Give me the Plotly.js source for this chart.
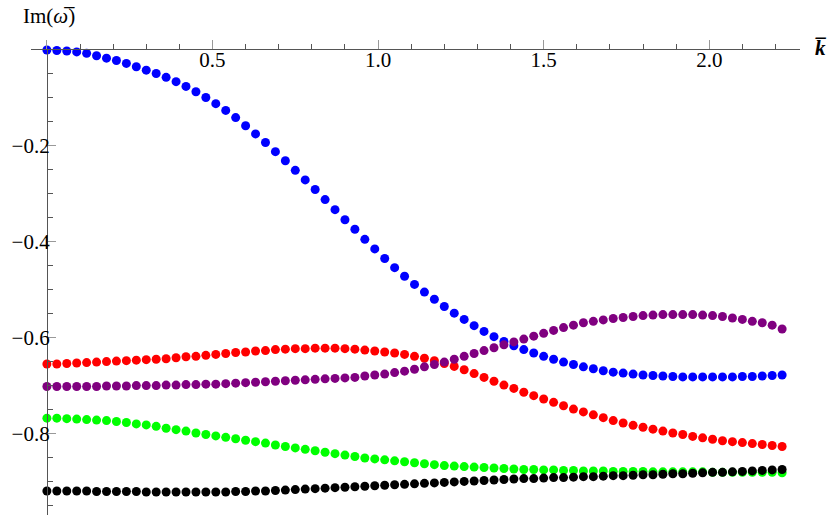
<!DOCTYPE html>
<html>
<head>
<meta charset="utf-8">
<script src="https://cdn.plot.ly/plotly-3.0.1.min.js"></script>
<style>
  body { margin: 0; background: #fff; }
  #modes { width: 830px; height: 517px; }
</style>
</head>
<body>
<div id="modes"></div>
<script>
// wave number k (bar), one dot every 0.03
var kVals = [0.00,0.03,0.06,0.09,0.12,0.15,0.18,0.21,0.24,0.27,
  0.30,0.33,0.36,0.39,0.42,0.45,0.48,0.51,0.54,0.57,
  0.60,0.63,0.66,0.69,0.72,0.75,0.78,0.81,0.84,0.87,
  0.90,0.93,0.96,0.99,1.02,1.05,1.08,1.11,1.14,1.17,
  1.20,1.23,1.26,1.29,1.32,1.35,1.38,1.41,1.44,1.47,
  1.50,1.53,1.56,1.59,1.62,1.65,1.68,1.71,1.74,1.77,
  1.80,1.83,1.86,1.89,1.92,1.95,1.98,2.01,2.04,2.07,
  2.10,2.13,2.16,2.19,2.22];

// Im(omega bar) for each mode
var blueMode = [0.000,-0.001,-0.002,-0.004,-0.007,-0.012,-0.017,-0.022,-0.028,-0.035,
  -0.042,-0.049,-0.057,-0.066,-0.076,-0.087,-0.099,-0.112,-0.126,-0.141,
  -0.158,-0.175,-0.193,-0.212,-0.231,-0.251,-0.271,-0.291,-0.312,-0.333,
  -0.354,-0.374,-0.395,-0.415,-0.435,-0.454,-0.472,-0.489,-0.505,-0.520,
  -0.535,-0.549,-0.562,-0.575,-0.587,-0.598,-0.608,-0.617,-0.625,-0.632,
  -0.639,-0.645,-0.651,-0.656,-0.661,-0.665,-0.669,-0.672,-0.674,-0.676,
  -0.678,-0.679,-0.680,-0.681,-0.682,-0.682,-0.682,-0.682,-0.682,-0.682,
  -0.681,-0.681,-0.680,-0.679,-0.678];

var redMode = [-0.655,-0.655,-0.654,-0.653,-0.652,-0.651,-0.650,-0.649,-0.648,-0.647,
  -0.646,-0.645,-0.644,-0.642,-0.640,-0.639,-0.637,-0.635,-0.633,-0.631,
  -0.630,-0.628,-0.627,-0.625,-0.624,-0.623,-0.623,-0.622,-0.622,-0.622,
  -0.623,-0.624,-0.626,-0.628,-0.630,-0.632,-0.635,-0.639,-0.643,-0.648,
  -0.654,-0.660,-0.667,-0.675,-0.683,-0.691,-0.699,-0.706,-0.714,-0.721,
  -0.728,-0.735,-0.742,-0.749,-0.755,-0.761,-0.767,-0.773,-0.778,-0.783,
  -0.787,-0.791,-0.795,-0.799,-0.802,-0.806,-0.809,-0.812,-0.815,-0.817,
  -0.819,-0.821,-0.823,-0.825,-0.827];

var purpleMode = [-0.702,-0.702,-0.702,-0.702,-0.702,-0.702,-0.701,-0.701,-0.701,-0.700,
  -0.700,-0.700,-0.699,-0.699,-0.698,-0.698,-0.697,-0.697,-0.696,-0.695,
  -0.694,-0.693,-0.692,-0.691,-0.690,-0.689,-0.688,-0.687,-0.686,-0.685,
  -0.684,-0.683,-0.680,-0.678,-0.676,-0.673,-0.670,-0.666,-0.661,-0.656,
  -0.651,-0.645,-0.639,-0.633,-0.627,-0.621,-0.615,-0.609,-0.603,-0.597,
  -0.591,-0.585,-0.579,-0.574,-0.569,-0.566,-0.563,-0.560,-0.558,-0.556,
  -0.554,-0.553,-0.552,-0.552,-0.552,-0.552,-0.553,-0.554,-0.556,-0.559,
  -0.562,-0.566,-0.569,-0.574,-0.582];

var greenMode = [-0.768,-0.768,-0.769,-0.770,-0.771,-0.772,-0.773,-0.775,-0.777,-0.780,
  -0.782,-0.785,-0.789,-0.792,-0.795,-0.799,-0.802,-0.805,-0.808,-0.811,
  -0.814,-0.817,-0.820,-0.824,-0.827,-0.830,-0.833,-0.836,-0.839,-0.842,
  -0.845,-0.848,-0.851,-0.853,-0.855,-0.857,-0.859,-0.861,-0.863,-0.865,
  -0.867,-0.868,-0.869,-0.870,-0.871,-0.872,-0.873,-0.874,-0.875,-0.875,
  -0.876,-0.876,-0.877,-0.877,-0.878,-0.878,-0.878,-0.879,-0.879,-0.879,
  -0.879,-0.880,-0.880,-0.880,-0.880,-0.880,-0.880,-0.881,-0.881,-0.881,
  -0.881,-0.881,-0.881,-0.881,-0.882];

var blackMode = [-0.920,-0.920,-0.920,-0.920,-0.920,-0.921,-0.921,-0.921,-0.921,-0.921,
  -0.922,-0.922,-0.922,-0.922,-0.922,-0.922,-0.922,-0.922,-0.922,-0.921,
  -0.921,-0.920,-0.920,-0.919,-0.918,-0.917,-0.916,-0.915,-0.914,-0.913,
  -0.912,-0.911,-0.910,-0.909,-0.908,-0.907,-0.906,-0.905,-0.904,-0.903,
  -0.902,-0.901,-0.900,-0.899,-0.898,-0.897,-0.896,-0.895,-0.894,-0.894,
  -0.893,-0.892,-0.892,-0.891,-0.890,-0.890,-0.889,-0.888,-0.888,-0.887,
  -0.886,-0.886,-0.885,-0.884,-0.884,-0.883,-0.882,-0.881,-0.881,-0.880,
  -0.879,-0.878,-0.877,-0.876,-0.875];

var modes = [blueMode, redMode, purpleMode, greenMode, blackMode];
var modeColors = ["#0000ff", "#ff0000", "#800080", "#00ff00", "#000000"];

var xRange = [-0.048, 2.274];
var yRange = [-0.97, 0];
var serif = "Liberation Serif, Times New Roman, serif";

var traces = modes.map(function(vals, i) {
  return {
    x: kVals,
    y: vals,
    type: "scatter",
    mode: "markers",
    marker: {size: 9, color: modeColors[i]},
    cliponaxis: false,
    hoverinfo: "x+y"
  };
});

var layout = {
  width: 830,
  height: 517,
  showlegend: false,
  paper_bgcolor: "#fff",
  plot_bgcolor: "#fff",
  margin: {l: 31, r: 30, t: 50, b: 2},
  font: {family: serif, size: 21, color: "#000"},
  xaxis: {
    range: xRange,
    side: "top",
    showline: true, linecolor: "#555", linewidth: 1,
    showgrid: false, zeroline: false,
    tick0: 0, dtick: 0.5, tickformat: ".1f",
    labelalias: {"0.0": ""},
    tickfont: {family: serif, size: 21, color: "#000"},
    ticks: "outside", ticklen: 9, tickwidth: 1, tickcolor: "#999",
    ticklabelposition: "inside",
    ticklabelstandoff: 4,
    minor: {dtick: 0.1, ticks: "outside", ticklen: 5, tickcolor: "#555"}
  },
  yaxis: {
    range: yRange,
    anchor: "free",
    position: (0 - xRange[0]) / (xRange[1] - xRange[0]),
    showline: true, linecolor: "#555", linewidth: 1,
    showgrid: false, zeroline: false,
    tick0: 0, dtick: 0.2, tickformat: ".1f",
    labelalias: {"0.0": ""},
    tickfont: {family: serif, size: 21, color: "#000"},
    ticks: "inside", ticklen: 8, tickwidth: 1, tickcolor: "#999",
    ticklabelstandoff: -7,
    minor: {dtick: 0.05, ticks: "inside", ticklen: 5, tickcolor: "#555"}
  },
  annotations: [
    {text: "Im(<i>\u03c9\u0305</i>)", xref: "paper", yref: "paper",
     x: -0.0134, y: 1.074, xanchor: "left", yanchor: "middle",
     showarrow: false, font: {family: serif, size: 21}},
    {text: "<b><i>k\u0305</i></b>", xref: "paper", yref: "paper",
     x: 1.027, y: 1.005, xanchor: "center", yanchor: "middle",
     showarrow: false, font: {family: serif, size: 21}}
  ]
};

Plotly.newPlot("modes", traces, layout, {displayModeBar: false, staticPlot: true});
</script>
</body>
</html>
